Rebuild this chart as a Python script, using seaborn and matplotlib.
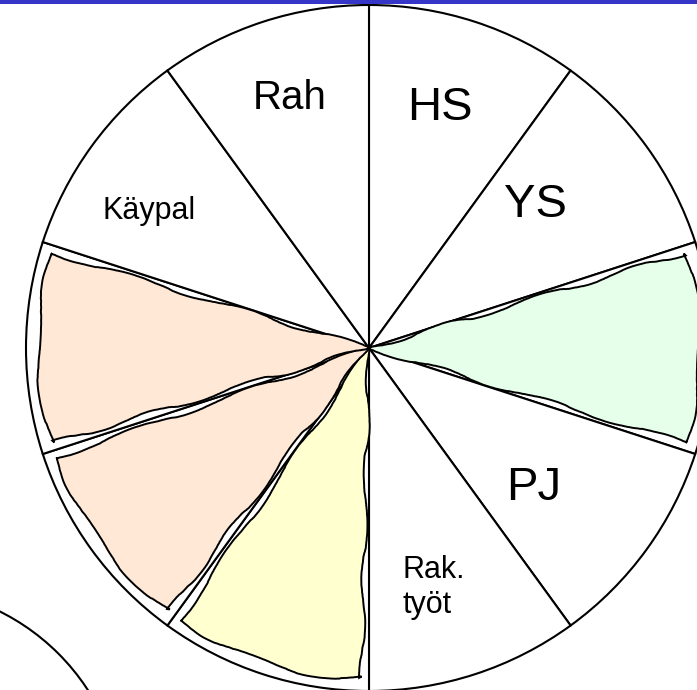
import matplotlib
matplotlib.use("Agg")
import matplotlib.pyplot as plt
from matplotlib.patches import Wedge, Circle, Rectangle
import numpy as np
import seaborn as sns

# ---- data -------------------------------------------------------------
# ten equal sectors, clockwise from 12 o'clock
categories = ["HS", "YS", "", "PJ", "Rak.\ntyöt", "", "", "", "Käypal", "Rah"]
shares = [1, 1, 1, 1, 1, 1, 1, 1, 1, 1]
fills = [None, None, "#E6FFEA", None, None, "#FFFFD0", "#FFE8D6", "#FFE8D6", None, None]
label_sizes = [34, 34, 0, 34, 22, 0, 0, 0, 22, 29]

# ---- style ------------------------------------------------------------
sns.set_theme(style="white")
plt.rcParams["font.family"] = ["Liberation Sans", "DejaVu Sans"]
plt.rcParams["text.color"] = "black"

W, H = 697, 690
cx, cy = 369, 348          # pie centre in pixel coordinates
R = 343

fig = plt.figure(figsize=(W / 100, H / 100), dpi=100)
ax = fig.add_axes([0, 0, 1, 1])

wedges, _ = ax.pie(shares, radius=R, startangle=90, counterclock=False,
                   colors=["white"] * len(shares),
                   wedgeprops=dict(edgecolor="black", linewidth=1.5))
ax.set_xlim(-cx, W - cx)
ax.set_ylim(-(H - cy), cy)
ax.set_aspect("equal")
ax.axis("off")

# hand-drawn highlighted sectors
for w, col in zip(wedges, fills):
    if col is None:
        continue
    t1, t2 = w.theta1, w.theta2
    hw = Wedge((0, 0), R * 0.965, t1 + 1.3, t2 - 1.3, facecolor=col,
               edgecolor="black", linewidth=1.4, zorder=3)
    hw.set_sketch_params(scale=2.5, length=150, randomness=4)
    ax.add_patch(hw)

# labels (radial fraction, angle offset from sector middle)
label_pos = {"HS": (0.73, 1.5), "YS": (0.64, 4.5), "PJ": (0.63, -4.5),
             "Rak.\ntyöt": (0.72, -4.0), "Käypal": (0.755, 4.0), "Rah": (0.765, -0.3)}
for w, lab, fs in zip(wedges, categories, label_sizes):
    if not lab:
        continue
    frac, dang = label_pos[lab]
    mid = np.deg2rad((w.theta1 + w.theta2) / 2 + dang)
    x, y = frac * R * np.cos(mid), frac * R * np.sin(mid)
    if "\n" in lab:
        ax.text(x - 26, y, lab, fontsize=fs, ha="left", va="center",
                linespacing=1.25, zorder=5, color="black")
    else:
        ax.text(x, y, lab, fontsize=fs, ha="center", va="center", zorder=5,
                color="black")

# partial second circle in lower-left corner
ax.add_patch(Circle((-100 - cx, cy - 812), 224, fill=False,
                    edgecolor="black", linewidth=1.5, zorder=2))

# blue bar at the top
fig.patches.append(Rectangle((0, 1 - 3.5 / H), 1, 3.5 / H, transform=fig.transFigure,
                             facecolor="#3535C8", edgecolor="none", zorder=10))

fig.savefig("out.png", dpi=100)
